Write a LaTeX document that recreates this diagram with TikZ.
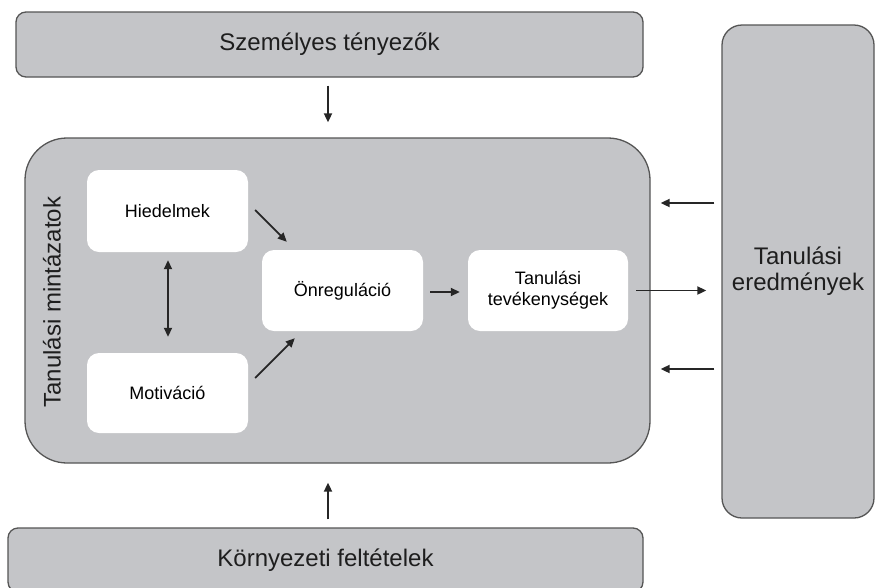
\documentclass[tikz,border=0pt]{standalone}
\usepackage{fontspec}
\setmainfont{Liberation Sans}
\usetikzlibrary{arrows.meta}
\definecolor{boxgray}{RGB}{196,197,200}
\definecolor{edgegray}{RGB}{85,85,85}
\definecolor{txt}{RGB}{30,30,30}
\begin{document}
\begin{tikzpicture}[x=1pt,y=-1pt,
  graybox/.style={draw=edgegray,line width=1.3pt,fill=boxgray,inner sep=0pt,anchor=center,text=txt},
  whitebox/.style={fill=white,rounded corners=12pt,inner sep=0pt,anchor=center,text=black,
    minimum width=161pt,font=\fontsize{18}{21}\selectfont,align=center},
  arr/.style={line width=1.8pt,draw=black!85,-{Triangle[length=9pt,width=8pt]}},
  darr/.style={line width=1.8pt,draw=black!85,{Triangle[length=9pt,width=8pt]}-{Triangle[length=9pt,width=8pt]}}
]
\useasboundingbox (0,0) rectangle (876,587);
\node[graybox,rounded corners=10pt,minimum width=627pt,minimum height=65pt,
  font=\fontsize{24}{28}\selectfont] (top) at (329.5,44.5) {Személyes tényezők};
\node[graybox,rounded corners=42pt,minimum width=625pt,minimum height=325pt] (main) at (337.5,300.5) {};
\node[graybox,rounded corners=20pt,minimum width=152pt,minimum height=493pt,
  font=\fontsize{24}{26}\selectfont,align=center] (res) at (798,271.5) {Tanulási\\eredmények};
\node[graybox,rounded corners=10pt,minimum width=635pt,minimum height=64pt,
  font=\fontsize{24}{28}\selectfont] (bot) at (325.5,560) {Környezeti feltételek};
\node[rotate=90,anchor=center,text=txt,font=\fontsize{24}{28}\selectfont] (lbl) at (52,302) {Tanulási mintázatok};
\node[whitebox,minimum height=82pt] (hied) at (167.5,211) {Hiedelmek};
\node[whitebox,minimum height=80pt] (motiv) at (167.5,393) {Motiváció};
\node[whitebox,minimum height=81pt] (onreg) at (342.5,290.5) {Önreguláció};
\node[whitebox,minimum width=160pt,minimum height=81pt] (tev) at (548,290.5) {Tanulási\\tevékenységek};
% arrows
\draw[arr,shorten <=8pt,shorten >=15pt] ([xshift=-1.5pt]top.south) -- ([xshift=-1.5pt]top.south |- main.north);
\draw[arr,shorten <=8pt,shorten >=19pt] ([xshift=2.5pt]bot.north) -- ([xshift=2.5pt]bot.north |- main.south);
\draw[arr] ([xshift=7pt,yshift=1pt]hied.east) -- ([xshift=25pt,yshift=8pt]onreg.north west);
\draw[arr] ([xshift=7pt,yshift=15pt]motiv.east) -- ([xshift=33pt,yshift=-7pt]onreg.south west);
\draw[darr,shorten <=8pt,shorten >=16pt] ([xshift=0.5pt]hied.south) -- ([xshift=0.5pt]motiv.north);
\draw[arr,shorten <=7pt,shorten >=8pt] ([yshift=-1.5pt]onreg.east) -- ([yshift=-1.5pt]tev.west);
\draw[arr,shorten <=8pt,shorten >=15pt] (tev.east) -- (tev.east -| res.west);
\draw[arr,shorten <=7pt,shorten >=10pt] ([yshift=68.5pt]res.west) -- ([yshift=68.5pt]res.west -| main.east);
\draw[arr,shorten <=7pt,shorten >=10pt] ([yshift=-97.5pt]res.west) -- ([yshift=-97.5pt]res.west -| main.east);
\end{tikzpicture}
\end{document}
